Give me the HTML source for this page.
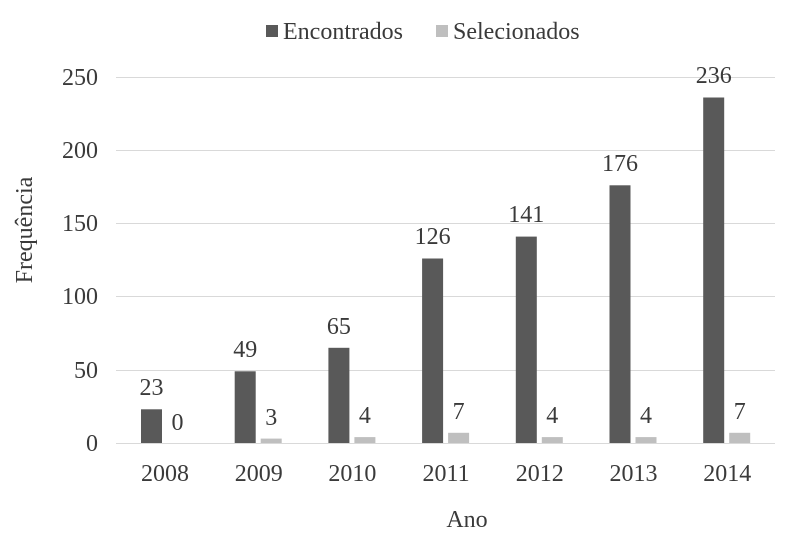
<!DOCTYPE html>
<html><head><meta charset="utf-8"><style>
html,body{margin:0;padding:0;background:#fff;}
svg text{font-family:"Liberation Serif",serif;fill:#3a3a3a;font-size:24px;}
</style></head><body>
<svg width="796" height="549" viewBox="0 0 796 549" xmlns="http://www.w3.org/2000/svg">
<g stroke="#d9d9d9" stroke-width="1">
<line x1="116" x2="775" y1="77.5" y2="77.5"/>
<line x1="116" x2="775" y1="150.5" y2="150.5"/>
<line x1="116" x2="775" y1="223.5" y2="223.5"/>
<line x1="116" x2="775" y1="296.5" y2="296.5"/>
<line x1="116" x2="775" y1="370.5" y2="370.5"/>
<line x1="116" x2="775" y1="443.5" y2="443.5"/>
</g>
<g text-anchor="end">
<text x="98" y="85">250</text>
<text x="98" y="158">200</text>
<text x="98" y="231">150</text>
<text x="98" y="304">100</text>
<text x="98" y="378">50</text>
<text x="98" y="451">0</text>
</g>
<g fill="#595959">
<rect x="141" y="409.3" width="21" height="33.7"/>
<rect x="234.7" y="371.3" width="21" height="71.7"/>
<rect x="328.4" y="347.8" width="21" height="95.2"/>
<rect x="422.1" y="258.5" width="21" height="184.5"/>
<rect x="515.8" y="236.6" width="21" height="206.4"/>
<rect x="609.5" y="185.3" width="21" height="257.7"/>
<rect x="703.2" y="97.5" width="21" height="345.5"/>
</g>
<g fill="#bfbfbf">
<rect x="260.7" y="438.6" width="21" height="4.4"/>
<rect x="354.4" y="437.1" width="21" height="5.9"/>
<rect x="448.1" y="432.8" width="21" height="10.2"/>
<rect x="541.8" y="437.1" width="21" height="5.9"/>
<rect x="635.5" y="437.1" width="21" height="5.9"/>
<rect x="729.2" y="432.8" width="21" height="10.2"/>
</g>
<g text-anchor="middle">
<text x="151.5" y="395">23</text>
<text x="245.2" y="357">49</text>
<text x="338.9" y="334">65</text>
<text x="432.6" y="244">126</text>
<text x="526.3" y="222">141</text>
<text x="620" y="171">176</text>
<text x="713.7" y="83">236</text>
<text x="177.5" y="430">0</text>
<text x="271.2" y="425">3</text>
<text x="364.9" y="423">4</text>
<text x="458.6" y="419">7</text>
<text x="552.3" y="423">4</text>
<text x="646" y="423">4</text>
<text x="739.7" y="419">7</text>
<text x="165" y="481">2008</text>
<text x="258.7" y="481">2009</text>
<text x="352.4" y="481">2010</text>
<text x="446.1" y="481">2011</text>
<text x="539.8" y="481">2012</text>
<text x="633.5" y="481">2013</text>
<text x="727.2" y="481">2014</text>
</g>
<text x="32" y="230" text-anchor="middle" transform="rotate(-90 32 230)">Frequência</text>
<text x="467" y="527" text-anchor="middle">Ano</text>
<rect x="266" y="25" width="12" height="12" fill="#595959"/>
<text x="283" y="39">Encontrados</text>
<rect x="436" y="25" width="12" height="12" fill="#bfbfbf"/>
<text x="453" y="39">Selecionados</text>
</svg>
</body></html>
